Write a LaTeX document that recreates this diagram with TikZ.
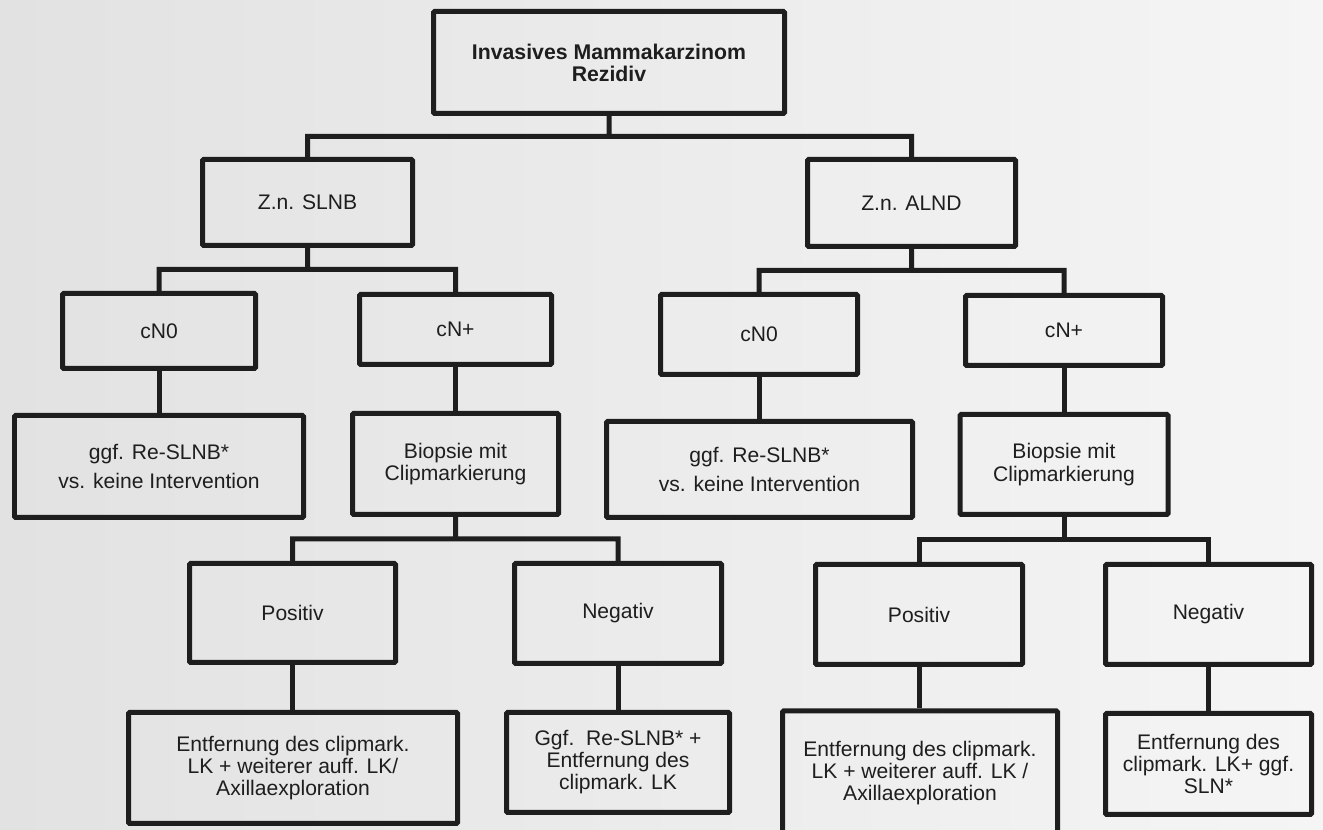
\documentclass[tikz,border=0pt]{standalone}
\usepackage{fontspec}
\setmainfont{Liberation Sans}
\usepackage{xcolor}
\definecolor{bgleft}{RGB}{226,226,226}
\definecolor{bgright}{RGB}{245,245,245}
\definecolor{ink}{RGB}{30,30,30}
\usepackage{tikz}
\usetikzlibrary{calc}

\newcommand{\branchto}[3]{\draw[link] (#1.south) -- ($(#1.south)!.5!(#1.south|-#2.north)$) coordinate (m) (#2.north) |- (m) -| (#3.north);}
\newcommand{\stemto}[2]{\draw[link] (#1.south) -- (#1.south|-#2.north);}

\begin{document}
\begin{tikzpicture}[x=0.02cm, y=-0.02cm,
			every node/.style={text=ink, font=\fontsize{12}{14}\selectfont},
			box/.style={draw=ink, line width=0.1cm, rounded corners=0.6pt, align=center, inner sep=0pt},
			boxsize/.style 2 args={minimum width=#1*0.02cm, minimum height=#2*0.02cm},
			link/.style={draw=ink, line width=0.1cm},
			small/.style={font=\fontsize{12}{12.5}\selectfont},
			]
			\shade[left color=bgleft, right color=bgright] (0,0) rectangle (1323,830);
			\useasboundingbox (0,0) rectangle (1323,830);
			\clip (0,0) rectangle (1323,830);
			
			\node[box, boxsize={351}{102}, font=\bfseries\fontsize{12.1}{12.5}\selectfont] (root) at (609,62.5) {Invasives Mammakarzinom\\Rezidiv};
			
			\node[box, boxsize={210}{86}] (slnb) at (307.5,202.5) {Z.n. SLNB};
			\node[box, boxsize={208}{87}] (alnd) at (911.5,203) {Z.n. ALND};
			
			\node[box, boxsize={193}{75}] (cnoa) at (159,331) {cN0};
			\node[box, boxsize={192}{70}] (cnpa) at (455.5,329.5) {cN+};
			\node[box, boxsize={197}{80}] (cnob) at (759,334.5) {cN0};
			\node[box, boxsize={197}{70}] (cnpb) at (1064,330.5) {cN+};
			
			\node[box, boxsize={289}{102}, font=\fontsize{12}{17}\selectfont] (resa) at (159,466.5) {ggf. Re-SLNB*\\vs. keine Intervention};
			\node[box, boxsize={206}{101}, font=\fontsize{12}{13}\selectfont] (bioa) at (455.5,464) {Biopsie mit\\Clipmarkierung};
			\node[box, boxsize={306}{96}, font=\fontsize{12}{17}\selectfont] (resb) at (759.5,469.5) {ggf. Re-SLNB*\\vs. keine Intervention};
			\node[box, boxsize={208}{100}, font=\fontsize{12}{13}\selectfont] (biob) at (1064,464.5) {Biopsie mit\\Clipmarkierung};
			
			\node[box, boxsize={206}{99}] (posa) at (292.5,613) {Positiv};
			\node[box, boxsize={207}{100}] (nega) at (618,613.5) {Negativ};
			\node[box, boxsize={207}{100}] (posb) at (919,614.5) {Positiv};
			\node[box, boxsize={206}{100}] (negb) at (1208.5,614.5) {Negativ};
			
			\node[box, small, boxsize={329}{111}] (enta) at (293,768) {Entfernung des clipmark.\\LK + weiterer auff. LK/\\Axillaexploration};
			\node[box, small, boxsize={223}{100}] (gga) at (618,762.5) {Ggf.\ \ Re-SLNB* +\\Entfernung des\\clipmark. LK};
			\node[box, small, boxsize={275}{124}] (entb) at (920,773) {Entfernung des clipmark.\\LK + weiterer auff. LK /\\Axillaexploration};
			\node[box, small, boxsize={206}{101}] (slnx) at (1208.5,764) {Entfernung des\\clipmark. LK+ ggf.\\SLN*};
			
			\branchto{root}{slnb}{alnd}
			\branchto{slnb}{cnoa}{cnpa}
			\branchto{alnd}{cnob}{cnpb}
			\branchto{bioa}{posa}{nega}
			\branchto{biob}{posb}{negb}
			\stemto{cnoa}{resa}
			\stemto{cnpa}{bioa}
			\stemto{cnob}{resb}
			\stemto{cnpb}{biob}
			\stemto{posa}{enta}
			\stemto{nega}{gga}
			\stemto{posb}{entb}
			\stemto{negb}{slnx}
			
		\end{tikzpicture}
\end{document}
